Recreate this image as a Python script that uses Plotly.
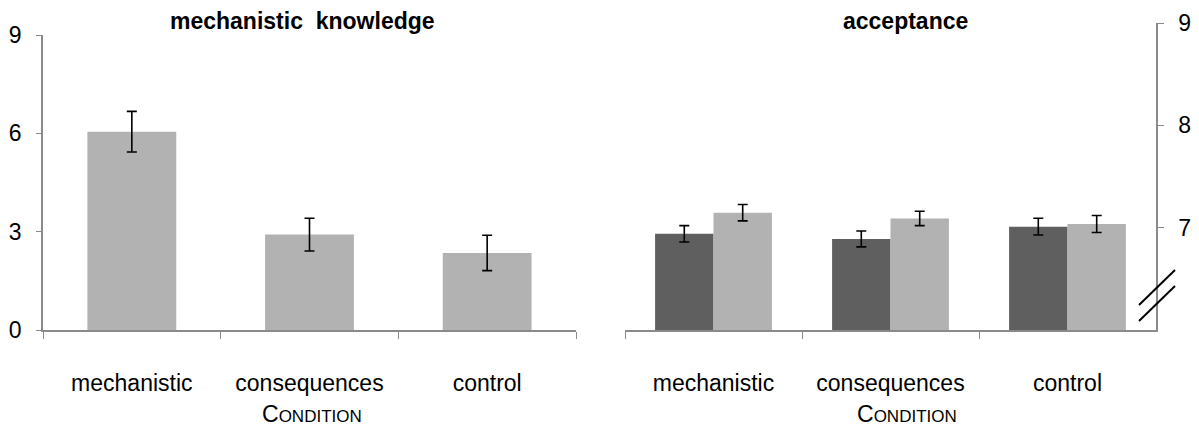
import plotly.graph_objects as go

# Conditions shown on both panels
conditions = ["mechanistic", "consequences", "control"]

# Left panel: mechanistic knowledge (0-9 scale)
knowledge_mean = [6.05, 2.91, 2.35]
knowledge_err = [0.62, 0.50, 0.54]

# Right panel: acceptance, two measurements per condition
accept_dark = [6.94, 6.89, 7.01]
accept_dark_err = [0.08, 0.078, 0.082]
accept_light = [7.146, 7.09, 7.036]
accept_light_err = [0.08, 0.07, 0.083]

left_ticks = [0, 3, 6, 9]
right_ticks = [7, 8, 9]

LIGHT = "#b2b2b2"
DARK = "#5f5f5f"
AXIS = "#8a8a8a"
FONT = "Liberation Sans, Arial, sans-serif"
W, H = 1199, 430

err_style = dict(type="data", color="black", thickness=1.6, width=5)

fig = go.Figure()

fig.add_trace(go.Bar(
    x=conditions, y=knowledge_mean, width=0.5,
    marker=dict(color=LIGHT, line=dict(width=0)),
    error_y=dict(array=knowledge_err, **err_style),
    xaxis="x", yaxis="y", showlegend=False,
))
fig.add_trace(go.Bar(
    x=conditions, y=accept_dark,
    marker=dict(color=DARK, line=dict(width=0)),
    error_y=dict(array=accept_dark_err, **err_style),
    xaxis="x2", yaxis="y2", showlegend=False,
))
fig.add_trace(go.Bar(
    x=conditions, y=accept_light,
    marker=dict(color=LIGHT, line=dict(width=0)),
    error_y=dict(array=accept_light_err, **err_style),
    xaxis="x2", yaxis="y2", showlegend=False,
))

x1_dom = [43 / W, 576 / W]
x2_dom = [625 / W, 1156 / W]
y_bottom = 1 - 330 / H

xaxis_common = dict(
    type="category", showline=True, linecolor=AXIS, linewidth=1.5,
    ticks="outside", tickson="boundaries", ticklen=7, tickcolor=AXIS, tickwidth=1.2,
    tickfont=dict(size=23, color="black", family=FONT),
    ticklabelstandoff=32, showgrid=False, zeroline=False, fixedrange=True,
)

fig.update_layout(
    width=W, height=H,
    margin=dict(l=0, r=0, t=0, b=0),
    paper_bgcolor="white", plot_bgcolor="white",
    barmode="group", bargap=0.34, bargroupgap=0,
    font=dict(family=FONT, color="black"),
    xaxis=dict(domain=x1_dom, anchor="y", automargin=False, **xaxis_common),
    xaxis2=dict(domain=x2_dom, anchor="y2", automargin=False, **xaxis_common),
    yaxis=dict(
        domain=[y_bottom, 1 - 35 / H], anchor="x", range=[0, 9],
        tickvals=left_ticks, showline=True, linecolor=AXIS, linewidth=1.5,
        ticks="outside", ticklen=5, tickcolor=AXIS, tickwidth=1.2,
        tickfont=dict(size=23, color="black", family=FONT),
        ticklabelstandoff=10, showgrid=False, zeroline=False, automargin=False,
    ),
    yaxis2=dict(
        domain=[y_bottom, 1 - 23 / H], anchor="x2", side="right", range=[6, 9],
        tickvals=right_ticks, showline=True, linecolor=AXIS, linewidth=1.5,
        ticks="outside", ticklen=6, tickcolor=AXIS, tickwidth=1.2,
        tickfont=dict(size=23, color="black", family=FONT),
        ticklabelstandoff=10, showgrid=False, zeroline=False, automargin=False,
    ),
)

# Panel titles
title_style = dict(xref="paper", yref="paper", showarrow=False,
                   xanchor="center", yanchor="middle",
                   font=dict(size=23, family=FONT, color="black"))
fig.add_annotation(text="<b>mechanistic\u00a0 knowledge</b>", x=303 / W, y=1 - 21 / H,
                   **title_style)
fig.add_annotation(text="<b>acceptance</b>", x=905 / W, y=1 - 21 / H, **title_style)

# Axis titles in small caps
cond_text = "C<span style='font-size:17px'>ONDITION</span>"
for cx in (312, 907):
    fig.add_annotation(text=cond_text, x=cx / W, y=1 - 414 / H,
                       xref="paper", yref="paper", showarrow=False,
                       xanchor="center", yanchor="middle",
                       font=dict(size=23, family=FONT, color="black"))

# Axis-break marks on the right value axis
for y0, y1 in ((305, 270), (321, 286)):
    fig.add_shape(type="line", xref="paper", yref="paper",
                  x0=1139 / W, y0=1 - y0 / H, x1=1175 / W, y1=1 - y1 / H,
                  line=dict(color="black", width=2))

fig.write_html("out.html")
